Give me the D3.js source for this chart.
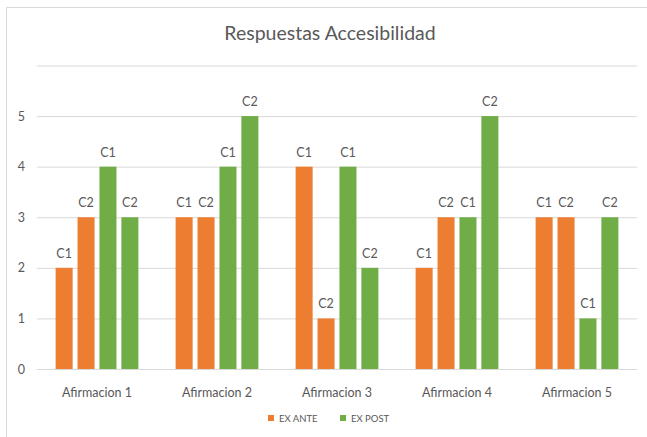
<!DOCTYPE html>
<html>
<head>
<meta charset="utf-8">
<script src="https://cdn.jsdelivr.net/npm/d3@7"></script>
<style>
  body { margin: 0; background: #fff; }
  svg { display: block; }
</style>
</head>
<body>
<svg id="chart" width="647" height="437"></svg>
<script>
const categories = ['Afirmacion 1', 'Afirmacion 2', 'Afirmacion 3', 'Afirmacion 4', 'Afirmacion 5'];
const seriesNames = ['EX ANTE C1', 'EX ANTE C2', 'EX POST C1', 'EX POST C2'];
const barLabels = ['C1', 'C2', 'C1', 'C2'];
const exAnteC1 = [2, 3, 4, 2, 3];
const exAnteC2 = [3, 3, 1, 3, 3];
const exPostC1 = [4, 4, 4, 3, 1];
const exPostC2 = [3, 5, 2, 5, 3];
const yTicks = [0, 1, 2, 3, 4, 5];
const legendItems = ['EX ANTE', 'EX POST'];

const orange = '#ED7D31';
const green = '#70AD47';
const textColor = '#595959';
const gridColor = '#d9d9d9';
const font = 'Lato, Carlito, Calibri, sans-serif';

const seriesValues = [exAnteC1, exAnteC2, exPostC1, exPostC2];
const seriesColors = [orange, orange, green, green];

const dims = {left: 37, right: 637, top: 65.5, bottom: 369};

const svg = d3.select('#chart');

// chart frame (only top & left edges visible)
svg.append('path')
   .attr('d', 'M6.5,437 L6.5,7.5 L647,7.5')
   .attr('fill', 'none')
   .attr('stroke', gridColor)
   .attr('stroke-width', 1);

svg.append('text')
   .attr('x', 330)
   .attr('y', 40)
   .attr('text-anchor', 'middle')
   .attr('font-family', font)
   .attr('font-size', 19.5)
   .attr('fill', textColor)
   .text('Respuestas Accesibilidad');

const x0 = d3.scaleBand()
             .domain(categories)
             .range([dims.left, dims.right]);
const x1 = d3.scaleBand()
             .domain(seriesNames)
             .range([0, x0.bandwidth()])
             .paddingInner(0.224)
             .paddingOuter(0.85);
const y = d3.scaleLinear()
            .domain([0, 6])
            .range([dims.bottom, dims.top]);

// gridlines
const yAxis = d3.axisLeft(y)
                .tickValues([0, 1, 2, 3, 4, 5, 6])
                .tickSize(-(dims.right - dims.left))
                .tickFormat(d => yTicks.includes(d) ? d : '');
const yAxisGroup = svg.append('g')
                      .attr('transform', `translate(${dims.left},0)`)
                      .call(yAxis);
yAxisGroup.select('.domain').remove();
yAxisGroup.selectAll('line').attr('stroke', gridColor);
yAxisGroup.selectAll('text')
          .attr('x', -12)
          .attr('fill', textColor)
          .attr('font-family', font)
          .attr('font-size', 12.5);

// bars
const rows = [];
categories.forEach((c, ci) => {
  seriesNames.forEach((s, si) => {
    rows.push({cat: c, series: s, value: seriesValues[si][ci], color: seriesColors[si], label: barLabels[si]});
  });
});

svg.append('g').selectAll('rect')
   .data(rows)
   .enter()
   .append('rect')
   .attr('x', d => x0(d.cat) + x1(d.series))
   .attr('y', d => y(d.value))
   .attr('width', x1.bandwidth())
   .attr('height', d => y(0) - y(d.value))
   .attr('fill', d => d.color);

svg.append('g').selectAll('text')
   .data(rows)
   .enter()
   .append('text')
   .attr('x', d => x0(d.cat) + x1(d.series) + x1.bandwidth() / 2)
   .attr('y', d => y(d.value) - 10)
   .attr('text-anchor', 'middle')
   .attr('font-family', font)
   .attr('font-size', 12.5)
   .attr('fill', textColor)
   .text(d => d.label);

// category axis
const xAxis = d3.axisBottom(x0).tickSize(0).tickPadding(19);
const xAxisGroup = svg.append('g')
                      .attr('transform', `translate(0,${dims.bottom})`)
                      .call(xAxis);
xAxisGroup.select('.domain').remove();
xAxisGroup.selectAll('text')
          .attr('fill', textColor)
          .attr('font-family', font)
          .attr('font-size', 12.5);

// legend
const legendColor = d3.scaleOrdinal().domain(legendItems).range([orange, green]);
const legendX = [268, 340];
const legend = svg.append('g').selectAll('g')
                  .data(legendItems)
                  .enter()
                  .append('g')
                  .attr('transform', (d, i) => `translate(${legendX[i]},415)`);
legend.append('rect')
      .attr('width', 6)
      .attr('height', 6)
      .attr('fill', d => legendColor(d));
legend.append('text')
      .attr('x', 11)
      .attr('y', 6.5)
      .attr('font-family', font)
      .attr('font-size', 9.5)
      .attr('fill', textColor)
      .text(d => d);
</script>
</body>
</html>
